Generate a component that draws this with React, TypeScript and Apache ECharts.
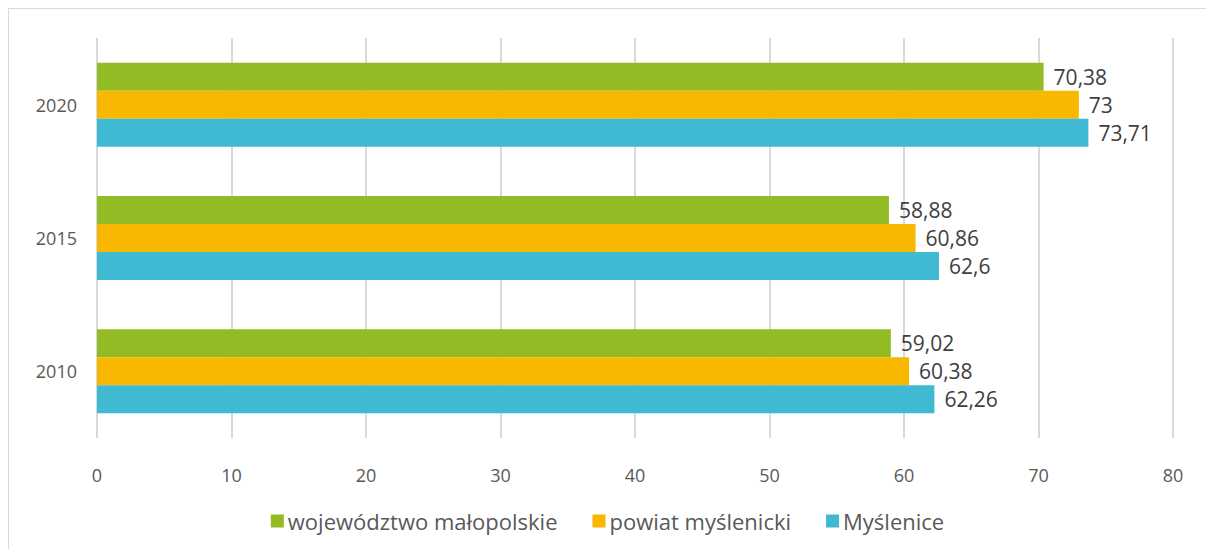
import React, { useEffect, useRef } from "react";
import * as echarts from "echarts";

const years = ["2010", "2015", "2020"];
const wojewodztwo = [59.02, 58.88, 70.38];
const powiat = [60.38, 60.86, 73];
const myslenice = [62.26, 62.6, 73.71];
const xTicks = { min: 0, max: 80, interval: 10 };

const FONT = "'Open Sans', 'Noto Sans', sans-serif";

export default function App() {
  const ref = useRef<HTMLDivElement>(null);
  useEffect(() => {
    if (!ref.current) return;
    const chart = echarts.init(ref.current, undefined, { renderer: "svg" });
    const label = {
      show: true,
      position: "right" as const,
      distance: 10,
      color: "#404040",
      fontSize: 21,
      fontFamily: FONT,
      formatter: (p: any) => String(p.value).replace(".", ","),
    };
    const mk = (name: string, data: number[], color: string) => ({
      name,
      type: "bar" as const,
      data,
      barWidth: 28,
      barGap: "0%",
      itemStyle: { color },
      label,
    });
    chart.setOption({
      animation: false,
      textStyle: { fontFamily: FONT },
      grid: { left: 88, width: 1076, top: 29, height: 400 },
      legend: {
        bottom: 12,
        left: "center",
        itemWidth: 13,
        itemHeight: 13,
        itemGap: 35,
        icon: "rect",
        data: ["województwo małopolskie", "powiat myślenicki", "Myślenice"],
        textStyle: { fontSize: 22, color: "#595959", fontFamily: FONT, padding: [0, 0, 0, -1] },
      },
      xAxis: {
        type: "value",
        min: xTicks.min,
        max: xTicks.max,
        interval: xTicks.interval,
        axisLine: { show: false },
        axisTick: { show: false },
        splitLine: { lineStyle: { color: "#d9d9d9", width: 2 } },
        axisLabel: { color: "#595959", fontSize: 18, margin: 28, fontFamily: FONT },
      },
      yAxis: {
        type: "category",
        data: years,
        axisLine: { show: false },
        axisTick: { show: false },
        axisLabel: { color: "#595959", fontSize: 18, margin: 20, fontFamily: FONT },
      },
      series: [
        mk("województwo małopolskie", wojewodztwo, "#92BB24"),
        mk("powiat myślenicki", powiat, "#F9B800"),
        mk("Myślenice", myslenice, "#40B9D3"),
      ],
    });
    return () => chart.dispose();
  }, []);
  return (
    <div
      ref={ref}
      style={{
        width: 1197,
        height: 540,
        borderTop: "1px solid #d9d9d9",
        borderLeft: "1px solid #d9d9d9",
      }}
    />
  );
}
